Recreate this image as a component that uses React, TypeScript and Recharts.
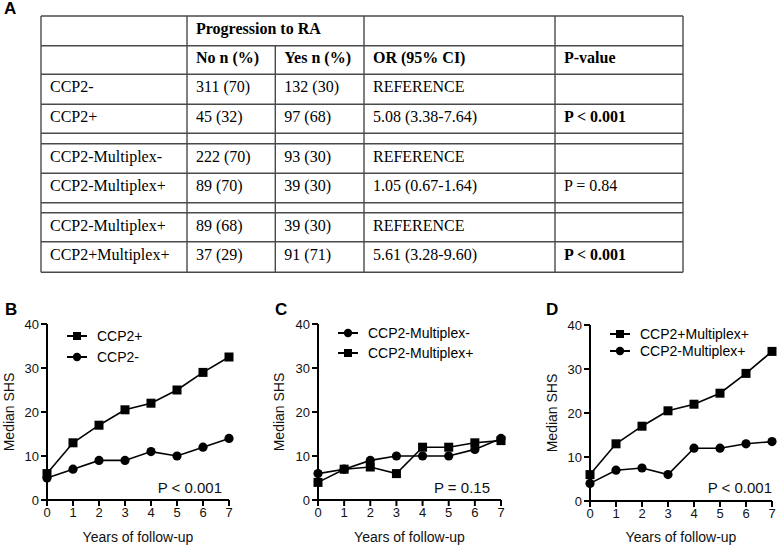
import React from 'react';
import { LineChart, Line, XAxis, YAxis, Legend } from 'recharts';

// ---------- Table data (panel A) ----------
const groupTitle = 'Progression to RA';
const columnHeaders = ['', 'No n (%)', 'Yes n (%)', 'OR (95% CI)', 'P-value'];
const rowLabels = ['CCP2-', 'CCP2+', 'CCP2-Multiplex-', 'CCP2-Multiplex+', 'CCP2-Multiplex+', 'CCP2+Multiplex+'];
const noCounts = ['311 (70)', '45 (32)', '222 (70)', '89 (70)', '89 (68)', '37 (29)'];
const yesCounts = ['132 (30)', '97 (68)', '93 (30)', '39 (30)', '39 (30)', '91 (71)'];
const orValues = ['REFERENCE', '5.08 (3.38-7.64)', 'REFERENCE', '1.05 (0.67-1.64)', 'REFERENCE', '5.61 (3.28-9.60)'];
const pValues = ['', 'P < 0.001', '', 'P = 0.84', '', 'P < 0.001'];
const pBold = [false, true, false, false, false, true];

// ---------- Chart data (panels B, C, D) ----------
const years = [0, 1, 2, 3, 4, 5, 6, 7];
const yTicks = [0, 10, 20, 30, 40];

const ccp2Pos = [6, 13, 17, 20.5, 22, 25, 29, 32.5];
const ccp2Neg = [5, 7, 9, 9, 11, 10, 12, 14];

const ccp2NegMultiplexNeg = [6, 7, 9, 10, 10, 10, 11.5, 14];
const ccp2NegMultiplexPosC = [4, 7, 7.5, 6, 12, 12, 13, 13.5];

const ccp2PosMultiplexPos = [6, 13, 17, 20.5, 22, 24.5, 29, 34];
const ccp2NegMultiplexPosD = [4, 7, 7.5, 6, 12, 12, 13, 13.5];

const pTextB = 'P < 0.001';
const pTextC = 'P = 0.15';
const pTextD = 'P < 0.001';

const SANS = '"Liberation Sans", Arial, Helvetica, sans-serif';
const SERIF = '"Liberation Serif", "Times New Roman", Times, serif';

// ---------- Table rendering ----------
const colX = [41, 187, 275.3, 364, 555, 683];
const topY = 16;
const header2Y = 45.7;
const dataRowTops = [74.3, 104.3, 143.7, 173.3, 212.7, 241.7];
const hLines = [16, 45.7, 74.3, 104.3, 133.3, 143.7, 173.3, 202.7, 212.7, 241.7, 272.3];
const tableBottom = 272.3;
const pad = 9;
const LINE = '#4a4a4a';

function Table() {
  return (
    <svg width={778} height={290} style={{ position: 'absolute', left: 0, top: 0 }}>
      {hLines.map((y, i) => (
        <line key={'h' + i} x1={colX[0]} x2={colX[5]} y1={y} y2={y} stroke={LINE} strokeWidth={1.4} />
      ))}
      {colX.map((x, i) => (
        <line
          key={'v' + i}
          x1={x}
          x2={x}
          y1={i === 2 ? header2Y : topY}
          y2={tableBottom}
          stroke={LINE}
          strokeWidth={1.4}
        />
      ))}
      <g fontFamily={SERIF} fontSize={16} fill="#000">
        <text x={colX[1] + pad} y={topY + 17.5} fontWeight="bold">{groupTitle}</text>
        {columnHeaders.map((h, i) => (
          <text key={'ch' + i} x={colX[i] + pad} y={header2Y + 17.5} fontWeight="bold">{h}</text>
        ))}
        {rowLabels.map((lab, r) => {
          const y = dataRowTops[r] + 18;
          return (
            <g key={'r' + r}>
              <text x={colX[0] + pad} y={y}>{lab}</text>
              <text x={colX[1] + pad} y={y}>{noCounts[r]}</text>
              <text x={colX[2] + pad} y={y}>{yesCounts[r]}</text>
              <text x={colX[3] + pad} y={y}>{orValues[r]}</text>
              <text x={colX[4] + pad} y={y} fontWeight={pBold[r] ? 'bold' : 'normal'}>{pValues[r]}</text>
            </g>
          );
        })}
      </g>
    </svg>
  );
}

// ---------- Chart rendering ----------
type Shape = 'square' | 'circle';
interface SeriesDef { name: string; values: number[]; shape: Shape }
interface PanelDef {
  letter: string;
  left: number;
  yAxisWidth: number;
  marginRight: number;
  marginTop: number;
  series: SeriesDef[];
  pText: string;
  pRight: number;
  legendLeft: number;
  legendTop: number;
  legendRow: number;
  yLabelOffset: number;
  letterLeft: number;
}

const panels: PanelDef[] = [
  {
    letter: 'B', left: 0, yAxisWidth: 47, marginRight: 31, marginTop: 24,
    series: [
      { name: 'CCP2+', values: ccp2Pos, shape: 'square' },
      { name: 'CCP2-', values: ccp2Neg, shape: 'circle' },
    ],
    pText: pTextB, pRight: 222, legendLeft: 67, legendTop: 25.5, legendRow: 21, yLabelOffset: 9, letterLeft: 5,
  },
  {
    letter: 'C', left: 260, yAxisWidth: 58, marginRight: 19, marginTop: 24,
    series: [
      { name: 'CCP2-Multiplex-', values: ccp2NegMultiplexNeg, shape: 'circle' },
      { name: 'CCP2-Multiplex+', values: ccp2NegMultiplexPosC, shape: 'square' },
    ],
    pText: pTextC, pRight: 490, legendLeft: 78, legendTop: 23, legendRow: 20, yLabelOffset: 19, letterLeft: 275,
  },
  {
    letter: 'D', left: 518, yAxisWidth: 72, marginRight: 6, marginTop: 25,
    series: [
      { name: 'CCP2+Multiplex+', values: ccp2PosMultiplexPos, shape: 'square' },
      { name: 'CCP2-Multiplex+', values: ccp2NegMultiplexPosD, shape: 'circle' },
    ],
    pText: pTextD, pRight: 772, legendLeft: 92, legendTop: 25.5, legendRow: 17, yLabelOffset: 34, letterLeft: 546,
  },
];

const CHART_TOP = 300;
const CHART_H = 247;
const CHART_W = 260;

function makeDot(shape: Shape) {
  return (p: any) => {
    const { cx, cy, index } = p;
    if (cx == null || cy == null) return <g key={'d' + index} />;
    if (shape === 'square') {
      return <rect key={'d' + index} x={cx - 4.5} y={cy - 4.5} width={9} height={9} fill="#000" />;
    }
    return <circle key={'d' + index} cx={cx} cy={cy} r={4.6} fill="#000" />;
  };
}

function LegendMarker({ shape }: { shape: Shape }) {
  return (
    <svg width={20} height={10} style={{ display: 'block' }}>
      <line x1={0} x2={20} y1={5} y2={5} stroke="#000" strokeWidth={2} />
      {shape === 'square' ? (
        <rect x={6} y={1} width={8} height={8} fill="#000" />
      ) : (
        <circle cx={10} cy={5} r={4.2} fill="#000" />
      )}
    </svg>
  );
}

function Panel({ def }: { def: PanelDef }) {
  const data = years.map((yr, i) => ({ year: yr, s0: def.series[0].values[i], s1: def.series[1].values[i] }));
  const legendContent = () => (
    <div style={{ fontFamily: SANS, fontSize: 14, color: '#000' }}>
      {def.series.map((s) => (
        <div key={s.name} style={{ display: 'flex', alignItems: 'center', height: def.legendRow }}>
          <LegendMarker shape={s.shape} />
          <span style={{ marginLeft: 10, whiteSpace: 'nowrap' }}>{s.name}</span>
        </div>
      ))}
    </div>
  );
  return (
    <div style={{ position: 'absolute', left: def.left, top: CHART_TOP, width: CHART_W, height: CHART_H }}>
      <LineChart
        width={CHART_W}
        height={CHART_H}
        data={data}
        margin={{ top: def.marginTop, right: def.marginRight, left: 0, bottom: 0 }}
        style={{ fontFamily: SANS }}
      >
        <XAxis
          dataKey="year"
          type="number"
          domain={[0, 7]}
          ticks={years}
          interval={0}
          height={CHART_H - def.marginTop - 176}
          axisLine={{ stroke: '#000', strokeWidth: 2 }}
          tickLine={{ stroke: '#000', strokeWidth: 2 }}
          tick={{ fill: '#111', fontSize: 13, fontFamily: SANS }}
          tickSize={6}
          tickMargin={2}
          label={{ value: 'Years of follow-up', position: 'insideBottom', offset: 5, fill: '#111', fontSize: 14, fontFamily: SANS }}
        />
        <YAxis
          type="number"
          domain={[0, 40]}
          ticks={yTicks}
          interval={0}
          width={def.yAxisWidth}
          axisLine={{ stroke: '#000', strokeWidth: 2 }}
          tickLine={{ stroke: '#000', strokeWidth: 2 }}
          tick={{ fill: '#111', fontSize: 13, fontFamily: SANS }}
          tickSize={6}
          tickMargin={2}
          label={{
            value: 'Median SHS', angle: -90, position: 'insideLeft', offset: def.yLabelOffset,
            fill: '#111', fontSize: 14, fontFamily: SANS, style: { textAnchor: 'middle' },
          }}
        />
        <Legend
          layout="horizontal"
          verticalAlign="middle"
          align="center"
          content={legendContent}
          wrapperStyle={{ left: def.legendLeft, top: def.legendTop, width: 180, height: def.legendRow * 2 }}
        />
        {def.series.map((s, i) => (
          <Line
            key={s.name}
            name={s.name}
            dataKey={'s' + i}
            stroke="#000"
            strokeWidth={1.6}
            isAnimationActive={false}
            dot={makeDot(s.shape)}
            activeDot={false}
          />
        ))}
      </LineChart>
    </div>
  );
}

export default function App() {
  return (
    <div style={{ position: 'absolute', left: 0, top: 0, width: 778, height: 547, background: '#fff', overflow: 'hidden' }}>
      <Table />
      <div style={{ position: 'absolute', left: 4, top: 0, fontFamily: SANS, fontWeight: 'bold', fontSize: 17, lineHeight: '17px' }}>A</div>
      {panels.map((p) => (
        <Panel key={p.letter} def={p} />
      ))}
      {panels.map((p) => (
        <div
          key={'l' + p.letter}
          style={{ position: 'absolute', left: p.letterLeft, top: 301, fontFamily: SANS, fontWeight: 'bold', fontSize: 17, lineHeight: '17px', color: '#000' }}
        >
          {p.letter}
        </div>
      ))}
      {panels.map((p) => (
        <div
          key={'p' + p.letter}
          style={{ position: 'absolute', left: p.pRight - 120, width: 120, top: 480, textAlign: 'right', fontFamily: SANS, fontSize: 15, lineHeight: '15px', color: '#111', whiteSpace: 'nowrap' }}
        >
          {p.pText}
        </div>
      ))}
    </div>
  );
}
